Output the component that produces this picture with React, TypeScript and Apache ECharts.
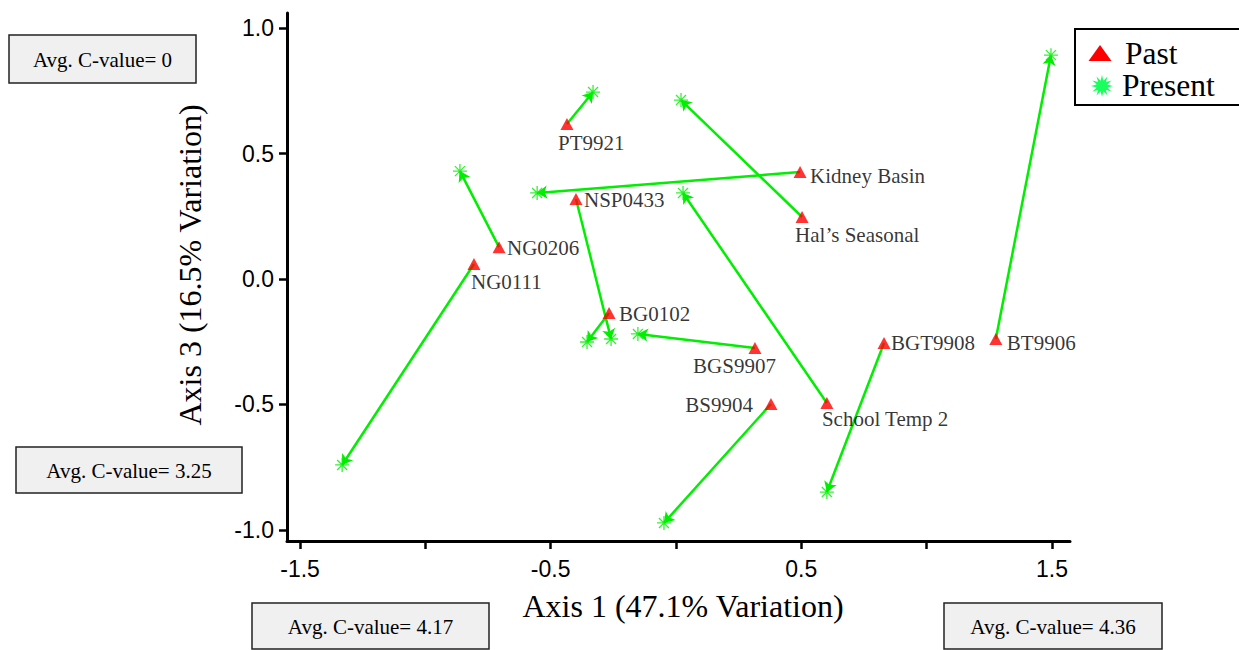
import React, { useEffect, useRef } from 'react';
import * as echarts from 'echarts';

// Site names and ordination scores (Axis 1, Axis 3) for past and present samples
const siteNames = [
  'PT9921', 'NG0206', 'NG0111', 'NSP0433', 'Kidney Basin', 'Hal\u2019s Seasonal',
  'BG0102', 'BGS9907', 'BS9904', 'School Temp 2', 'BGT9908', 'BT9906',
];
const pastX = [-0.435, -0.706, -0.806, -0.399, 0.495, 0.503, -0.267, 0.315, 0.379, 0.602, 0.830, 1.276];
const pastY = [0.618, 0.127, 0.060, 0.319, 0.426, 0.247, -0.135, -0.275, -0.498, -0.494, -0.255, -0.239];
const presentX = [-0.331, -0.862, -1.332, -0.259, -0.554, 0.020, -0.355, -0.152, -0.048, 0.028, 0.602, 1.496];
const presentY = [0.745, 0.430, -0.741, -0.239, 0.343, 0.713, -0.251, -0.219, -0.972, 0.343, -0.849, 0.892];

const xTickValues = [-1.5, -1, -0.5, 0, 0.5, 1, 1.5];
const xTickLabels = [-1.5, -0.5, 0.5, 1.5];
const yTickValues = [-1, -0.5, 0, 0.5, 1];
const avgCValues = ['0', '3.25', '4.17', '4.36'];

const serif = '"Liberation Serif", "Times New Roman", Times, serif';
const sans = '"Liberation Sans", Arial, Helvetica, sans-serif';

// Label placement around each triangle: alignment and pixel offset from the marker centre
const labelLayout: Record<string, { align: 'left' | 'right'; dx: number; dy: number }> = {
  'PT9921': { align: 'left', dx: -9, dy: 19 },
  'NG0206': { align: 'left', dx: 8, dy: 1 },
  'NG0111': { align: 'left', dx: -3, dy: 18 },
  'NSP0433': { align: 'left', dx: 8, dy: 1 },
  'Kidney Basin': { align: 'left', dx: 10, dy: 4 },
  'Hal\u2019s Seasonal': { align: 'left', dx: -7, dy: 18 },
  'BG0102': { align: 'left', dx: 10, dy: 1 },
  'BGS9907': { align: 'right', dx: 21, dy: 18 },
  'BS9904': { align: 'right', dx: -18, dy: 1 },
  'School Temp 2': { align: 'left', dx: -5, dy: 16 },
  'BGT9908': { align: 'left', dx: 7, dy: 0 },
  'BT9906': { align: 'left', dx: 11, dy: 4 },
};

const TRI_W = 13;
const TRI_H = 12;

const avgBoxes = [
  { x: 9, y: 35, w: 187, h: 48 },
  { x: 16, y: 447, w: 226, h: 46 },
  { x: 252, y: 603, w: 237, h: 46 },
  { x: 944, y: 603, w: 218, h: 46 },
];

function starburst(cx: number, cy: number, rOuter: number, rInner: number, n: number) {
  const pts: number[][] = [];
  for (let k = 0; k < n * 2; k++) {
    const r = k % 2 === 0 ? rOuter : rInner;
    const a = (Math.PI * k) / n - Math.PI / 2;
    pts.push([cx + r * Math.cos(a), cy + r * Math.sin(a)]);
  }
  return pts;
}

export default function App() {
  const ref = useRef<HTMLDivElement>(null);

  useEffect(() => {
    document.body.style.margin = '0';
    const chart = echarts.init(ref.current!, null, { renderer: 'svg' });

    const graphic: any[] = avgBoxes.map((b, i) => ({
      type: 'group',
      children: [
        {
          type: 'rect',
          shape: { x: b.x, y: b.y, width: b.w, height: b.h },
          style: { fill: '#f0f0f0', stroke: '#222', lineWidth: 1.5 },
        },
        {
          type: 'text',
          x: b.x + b.w / 2,
          y: b.y + b.h / 2 + 1,
          style: {
            text: `Avg. C-value= ${avgCValues[i]}`,
            fill: '#000',
            fontSize: 21,
            fontFamily: serif,
            align: 'center',
            verticalAlign: 'middle',
          },
        },
      ],
    }));

    // Legend box
    graphic.push({
      type: 'group',
      children: [
        {
          type: 'rect',
          shape: { x: 1075, y: 29, width: 200, height: 76 },
          style: { fill: '#fff', stroke: '#000', lineWidth: 2 },
        },
        {
          type: 'polygon',
          shape: { points: [[1088.5, 61], [1111.5, 61], [1100, 45]] },
          style: { fill: '#ff0000' },
        },
        {
          type: 'polygon',
          shape: { points: starburst(1102, 86, 11, 5.5, 12) },
          style: { fill: '#19ff5e' },
        },
        {
          type: 'text',
          x: 1125,
          y: 53,
          style: { text: 'Past', fill: '#000', fontSize: 31.5, fontFamily: serif, align: 'left', verticalAlign: 'middle' },
        },
        {
          type: 'text',
          x: 1122,
          y: 85,
          style: { text: 'Present', fill: '#000', fontSize: 31.5, fontFamily: serif, align: 'left', verticalAlign: 'middle' },
        },
      ],
    });

    const option: any = {
      animation: false,
      backgroundColor: '#fff',
      grid: { left: 287, right: 169, top: 13, bottom: 109, containLabel: false },
      xAxis: {
        type: 'value',
        min: -1.552,
        max: 1.572,
        name: 'Axis 1 (47.1% Variation)',
        nameLocation: 'middle',
        nameGap: 49,
        nameTextStyle: { fontFamily: serif, fontSize: 32, color: '#000', padding: [0, 0, 0, 9] },
        axisLine: { show: true, onZero: false, lineStyle: { color: '#000', width: 3 } },
        axisTick: { show: true, length: 8, lineStyle: { color: '#000', width: 2.5 }, customValues: xTickValues },
        axisLabel: {
          customValues: xTickLabels,
          margin: 16,
          fontFamily: sans,
          fontSize: 23,
          color: '#000',
          formatter: (v: number) => v.toFixed(1),
        },
        splitLine: { show: false },
      },
      yAxis: {
        type: 'value',
        min: -1.044,
        max: 1.06,
        name: 'Axis 3 (16.5% Variation)',
        nameLocation: 'middle',
        nameRotate: 90,
        nameGap: 81,
        nameTextStyle: { fontFamily: serif, fontSize: 32, color: '#000', padding: [0, 0, 0, 24] },
        axisLine: { show: true, onZero: false, lineStyle: { color: '#000', width: 3 } },
        axisTick: { show: true, length: 8, lineStyle: { color: '#000', width: 2.5 }, customValues: yTickValues },
        axisLabel: {
          customValues: yTickValues,
          margin: 13,
          fontFamily: sans,
          fontSize: 23,
          color: '#000',
          formatter: (v: number) => v.toFixed(1),
        },
        splitLine: { show: false },
      },
      series: [
        {
          type: 'lines',
          coordinateSystem: 'cartesian2d',
          silent: true,
          z: 1,
          symbol: ['none', 'arrow'],
          symbolSize: 10,
          lineStyle: { color: '#00ee00', width: 2.5, opacity: 1, curveness: 0 },
          data: siteNames.map((n, i) => ({
            name: n,
            coords: [
              [pastX[i], pastY[i]],
              [presentX[i], presentY[i]],
            ],
          })),
        },
        {
          name: 'Present',
          type: 'scatter',
          z: 2,
          symbol: 'path://M0 7H14M7 0V14M2 2L12 12M12 2L2 12',
          symbolSize: 14,
          itemStyle: { color: 'rgba(0,0,0,0)', borderColor: '#00ee00', borderWidth: 1.3 },
          data: siteNames.map((n, i) => ({ name: n, value: [presentX[i], presentY[i]] })),
        },
        {
          name: 'Past',
          type: 'scatter',
          z: 3,
          symbol: 'triangle',
          symbolSize: [TRI_W, TRI_H],
          itemStyle: { color: '#ff0000' },
          data: siteNames.map((n, i) => {
            const l = labelLayout[n];
            return {
              name: n,
              value: [pastX[i], pastY[i]],
              label: {
                show: true,
                formatter: '{b}',
                position: [TRI_W / 2 + l.dx, TRI_H / 2 + l.dy],
                align: l.align,
                verticalAlign: 'middle',
                color: '#000',
                fontFamily: serif,
                fontSize: 21,
                textBorderWidth: 0,
              },
            };
          }),
        },
      ],
      graphic,
    };

    chart.setOption(option);
    return () => chart.dispose();
  }, []);

  return <div ref={ref} style={{ width: 1239, height: 650, background: '#fff' }} />;
}
